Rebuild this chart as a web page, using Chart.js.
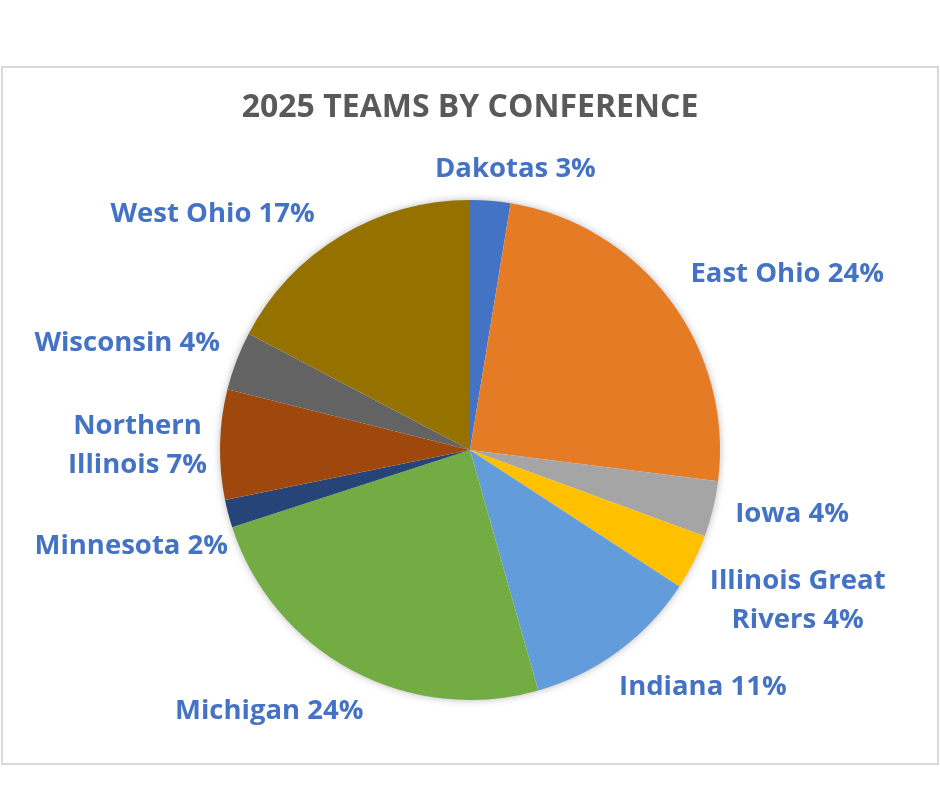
<!DOCTYPE html>
<html>
<head>
<meta charset="utf-8">
<script src="https://cdn.jsdelivr.net/npm/chart.js@4/dist/chart.umd.min.js"></script>
<style>
  html, body { margin: 0; padding: 0; background: #fff; }
  canvas { display: block; }
</style>
</head>
<body>
<canvas id="teams" width="940" height="788"></canvas>
<script>
// conference names (arrays = wrapped label lines)
const conferences = ['Dakotas', 'East Ohio', 'Iowa', ['Illinois Great', 'Rivers'], 'Indiana',
  'Michigan', 'Minnesota', ['Northern', 'Illinois'], 'Wisconsin', 'West Ohio'];
// share of teams, percent
const teamShare = [2.6, 24.4, 3.6, 3.6, 11.4, 24.4, 1.8, 7.1, 3.8, 17.3];
const sliceColors = ['#4472C4', '#E67B25', '#A5A5A5', '#FFC000', '#639CDA',
  '#73AC42', '#264478', '#9E480E', '#636363', '#957200'];
// small label nudges (px) to mimic Excel's best-fit placement
const labelNudge = [[23, 13], [0, 0], [-2, -5], [-6, 10], [-14, 0],
  [23, 1], [24, 21], [12, 3], [7, -2], [-13, 16]];

const frame = {
  id: 'frame',
  beforeDraw(chart) {
    const ctx = chart.ctx;
    ctx.save();
    ctx.fillStyle = '#fff';
    ctx.fillRect(0, 0, chart.width, chart.height);
    ctx.strokeStyle = '#D9D9D9';
    ctx.lineWidth = 2;
    ctx.strokeRect(2, 67, 936, 697);
    ctx.restore();
  },
  beforeDatasetsDraw(chart) {
    // soft shadow under the pie
    const arc = chart.getDatasetMeta(0).data[0];
    const ctx = chart.ctx;
    ctx.save();
    ctx.shadowColor = 'rgba(0,0,0,0.35)';
    ctx.shadowBlur = 9;
    ctx.fillStyle = '#fff';
    ctx.beginPath();
    ctx.arc(arc.x, arc.y, arc.outerRadius - 1, 0, Math.PI * 2);
    ctx.fill();
    ctx.restore();
  }
};

const outsideLabels = {
  id: 'outsideLabels',
  afterDatasetsDraw(chart) {
    const ctx = chart.ctx;
    const meta = chart.getDatasetMeta(0);
    const total = teamShare.reduce((a, b) => a + b, 0);
    const lh = 39;
    ctx.save();
    ctx.font = 'bold 27.5px "Open Sans"';
    ctx.fillStyle = '#4472C4';
    ctx.textBaseline = 'middle';
    ctx.textAlign = 'center';
    meta.data.forEach((arc, i) => {
      const lines = [].concat(conferences[i]);
      lines[lines.length - 1] += ' ' + Math.round(teamShare[i] / total * 100) + '%';
      const mid = (arc.startAngle + arc.endAngle) / 2;
      const dx = Math.cos(mid), dy = Math.sin(mid);
      const px = arc.x + dx * (arc.outerRadius + 25);
      const py = arc.y + dy * (arc.outerRadius + 25);
      const w = Math.max(...lines.map(l => ctx.measureText(l).width));
      const h = lines.length * lh;
      let cx = px;
      if (dx > 0.15) cx = px + w / 2;
      else if (dx < -0.15) cx = px - w / 2;
      cx += labelNudge[i][0];
      const top = py + dy * h / 2 - h / 2 + labelNudge[i][1];
      lines.forEach((ln, k) => ctx.fillText(ln, cx, top + lh * (k + 0.5)));
    });
    ctx.restore();
  }
};

new Chart(document.getElementById('teams'), {
  type: 'pie',
  data: {
    labels: conferences,
    datasets: [{
      data: teamShare,
      backgroundColor: sliceColors,
      borderWidth: 0,
      hoverOffset: 0
    }]
  },
  options: {
    responsive: false,
    animation: false,
    events: [],
    layout: { padding: { top: 89, left: 220, right: 220, bottom: 88 } },
    plugins: {
      legend: { display: false },
      tooltip: { enabled: false },
      title: {
        display: true,
        text: '2025 TEAMS BY CONFERENCE',
        color: '#595959',
        font: { family: 'Open Sans', size: 32, weight: 'bold', lineHeight: 1.2 },
        padding: { top: 0, bottom: 72.6 }
      }
    }
  },
  plugins: [frame, outsideLabels]
});
</script>
</body>
</html>
